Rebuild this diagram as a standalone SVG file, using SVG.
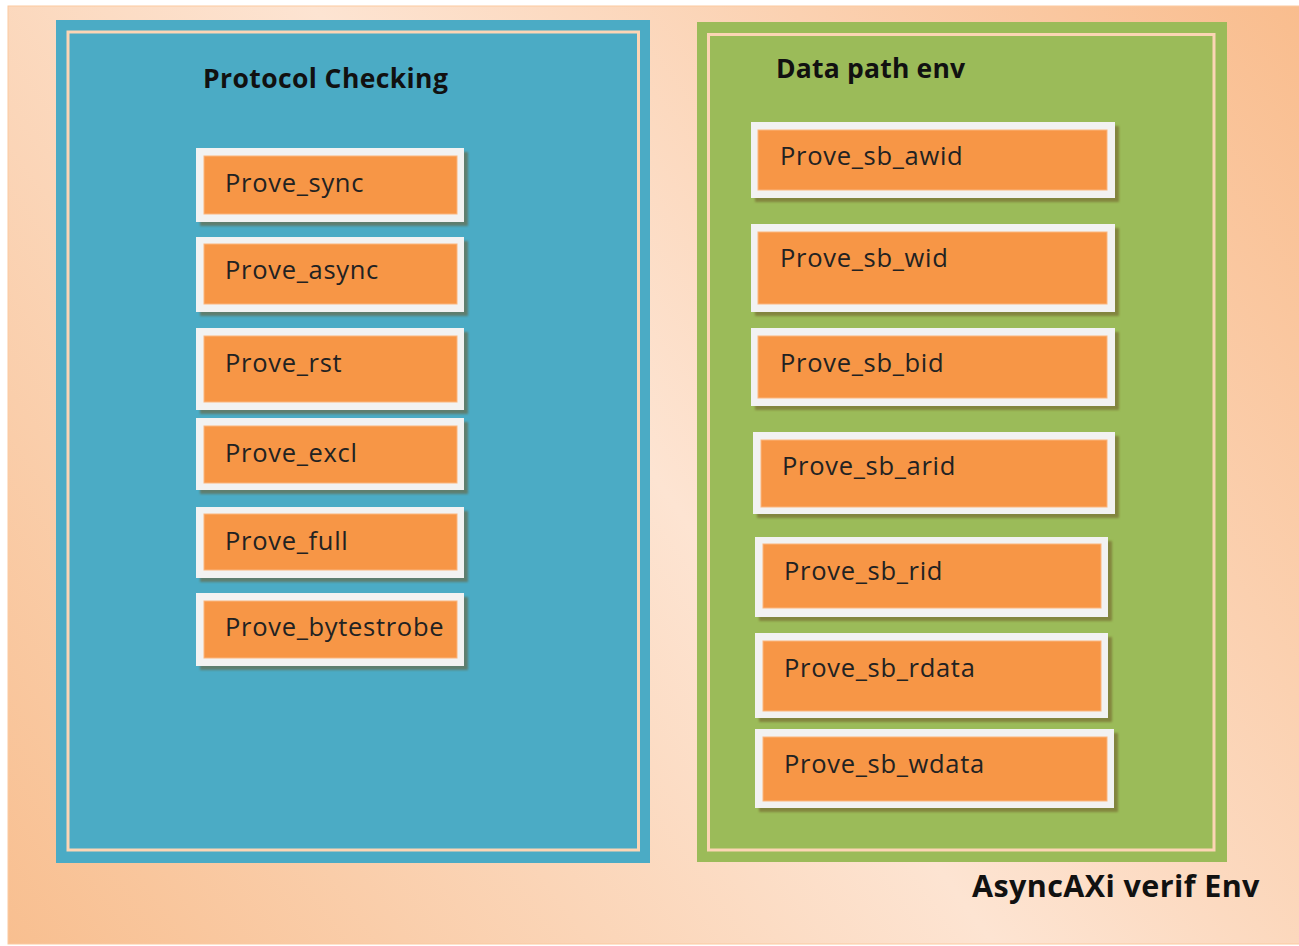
<svg xmlns="http://www.w3.org/2000/svg" width="1299" height="946" viewBox="0 0 1299 946">
  <defs>
    <linearGradient id="bgGrad" gradientUnits="userSpaceOnUse" x1="1299" y1="6" x2="8" y2="944">
      <stop offset="0" stop-color="#f9bd8e"/>
      <stop offset="0.5" stop-color="#fde4d2"/>
      <stop offset="1" stop-color="#f8bf90"/>
    </linearGradient>
    <filter id="soft" x="-5%" y="-5%" width="110%" height="110%">
      <feGaussianBlur stdDeviation="0.8"/>
    </filter>
  </defs>
  <style>
    .title { font-family: "Open Sans", "Liberation Sans", sans-serif; font-weight: 700; fill: #111111; }
    .label { font-family: "Open Sans", "Liberation Sans", sans-serif; font-size: 25.5px; letter-spacing: 0.7px; fill: #222222; }
    .frame { fill: #f2f2f2; }
    .core { fill: #f79646; stroke: #fbb57c; stroke-width: 1; }
    .shadow { fill: #6e5a2a; opacity: 0.55; filter: url(#soft); }
    .inner-line { fill: none; stroke: #fcd5b5; stroke-width: 3; }
  </style>

  <!-- environment backdrop -->
  <rect x="8" y="6" width="1300" height="938" fill="url(#bgGrad)" stroke="#fbc9a0" stroke-width="1"/>

  <!-- protocol checking panel -->
  <g id="protocol-checking">
    <rect x="56" y="20" width="594" height="843" fill="#4babc5"/>
    <rect x="68" y="32" width="570.5" height="818" class="inner-line"/>
    <text x="203" y="88" class="title" font-size="26.5" letter-spacing="0.4">Protocol Checking</text>
  </g>

  <!-- data path panel -->
  <g id="data-path-env">
    <rect x="697" y="22" width="530" height="840" fill="#9bbb59"/>
    <rect x="708.5" y="34.5" width="505.5" height="815.5" class="inner-line"/>
    <text x="776" y="78" class="title" font-size="26.5" letter-spacing="0.2">Data path env</text>
  </g>

  <!-- protocol checks -->
  <g id="prove-sync">
    <rect x="200" y="152" width="268" height="74" class="shadow"/>
    <rect x="196" y="148" width="268" height="74" class="frame"/>
    <rect x="204" y="156" width="253" height="58" class="core"/>
    <text x="225" y="192" class="label">Prove_sync</text>
  </g>
  <g id="prove-async">
    <rect x="200" y="241" width="268" height="75" class="shadow"/>
    <rect x="196" y="237" width="268" height="75" class="frame"/>
    <rect x="204" y="244" width="253" height="60" class="core"/>
    <text x="225" y="279" class="label">Prove_async</text>
  </g>
  <g id="prove-rst">
    <rect x="200" y="332" width="268" height="82" class="shadow"/>
    <rect x="196" y="328" width="268" height="82" class="frame"/>
    <rect x="204" y="336" width="253" height="66" class="core"/>
    <text x="225" y="372" class="label">Prove_rst</text>
  </g>
  <g id="prove-excl">
    <rect x="200" y="422" width="268" height="72" class="shadow"/>
    <rect x="196" y="418" width="268" height="72" class="frame"/>
    <rect x="204" y="426" width="253" height="57" class="core"/>
    <text x="225" y="462" class="label">Prove_excl</text>
  </g>
  <g id="prove-full">
    <rect x="200" y="511" width="268" height="71" class="shadow"/>
    <rect x="196" y="507" width="268" height="71" class="frame"/>
    <rect x="204" y="514" width="253" height="56" class="core"/>
    <text x="225" y="550" class="label">Prove_full</text>
  </g>
  <g id="prove-bytestrobe">
    <rect x="200" y="597" width="268" height="73" class="shadow"/>
    <rect x="196" y="593" width="268" height="73" class="frame"/>
    <rect x="204" y="601" width="253" height="57" class="core"/>
    <text x="225" y="636" class="label">Prove_bytestrobe</text>
  </g>

  <!-- scoreboard checks -->
  <g id="prove-sb-awid">
    <rect x="755" y="126" width="364" height="76" class="shadow"/>
    <rect x="751" y="122" width="364" height="76" class="frame"/>
    <rect x="758" y="130" width="349" height="60" class="core"/>
    <text x="780" y="165" class="label">Prove_sb_awid</text>
  </g>
  <g id="prove-sb-wid">
    <rect x="755" y="228" width="364" height="88" class="shadow"/>
    <rect x="751" y="224" width="364" height="88" class="frame"/>
    <rect x="758" y="232" width="349" height="72" class="core"/>
    <text x="780" y="267" class="label">Prove_sb_wid</text>
  </g>
  <g id="prove-sb-bid">
    <rect x="755" y="332" width="364" height="78" class="shadow"/>
    <rect x="751" y="328" width="364" height="78" class="frame"/>
    <rect x="758" y="336" width="349" height="62" class="core"/>
    <text x="780" y="372" class="label">Prove_sb_bid</text>
  </g>
  <g id="prove-sb-arid">
    <rect x="757" y="436" width="362" height="82" class="shadow"/>
    <rect x="753" y="432" width="362" height="82" class="frame"/>
    <rect x="761" y="440" width="346" height="67" class="core"/>
    <text x="782" y="475" class="label">Prove_sb_arid</text>
  </g>
  <g id="prove-sb-rid">
    <rect x="759" y="541" width="353" height="80" class="shadow"/>
    <rect x="755" y="537" width="353" height="80" class="frame"/>
    <rect x="763" y="544" width="338" height="64" class="core"/>
    <text x="784" y="580" class="label">Prove_sb_rid</text>
  </g>
  <g id="prove-sb-rdata">
    <rect x="759" y="637" width="353" height="85" class="shadow"/>
    <rect x="755" y="633" width="353" height="85" class="frame"/>
    <rect x="763" y="641" width="338" height="70" class="core"/>
    <text x="784" y="677" class="label">Prove_sb_rdata</text>
  </g>
  <g id="prove-sb-wdata">
    <rect x="759" y="733" width="359" height="79" class="shadow"/>
    <rect x="755" y="729" width="359" height="79" class="frame"/>
    <rect x="763" y="737" width="344" height="64" class="core"/>
    <text x="784" y="773" class="label">Prove_sb_wdata</text>
  </g>

  <!-- no connectors in this layout -->
  <g id="connectors"/>

  <!-- environment caption -->
  <g id="env-caption">
    <text x="972" y="897" class="title" font-size="30.5" letter-spacing="0.4">AsyncAXi verif Env</text>
  </g>
</svg>
